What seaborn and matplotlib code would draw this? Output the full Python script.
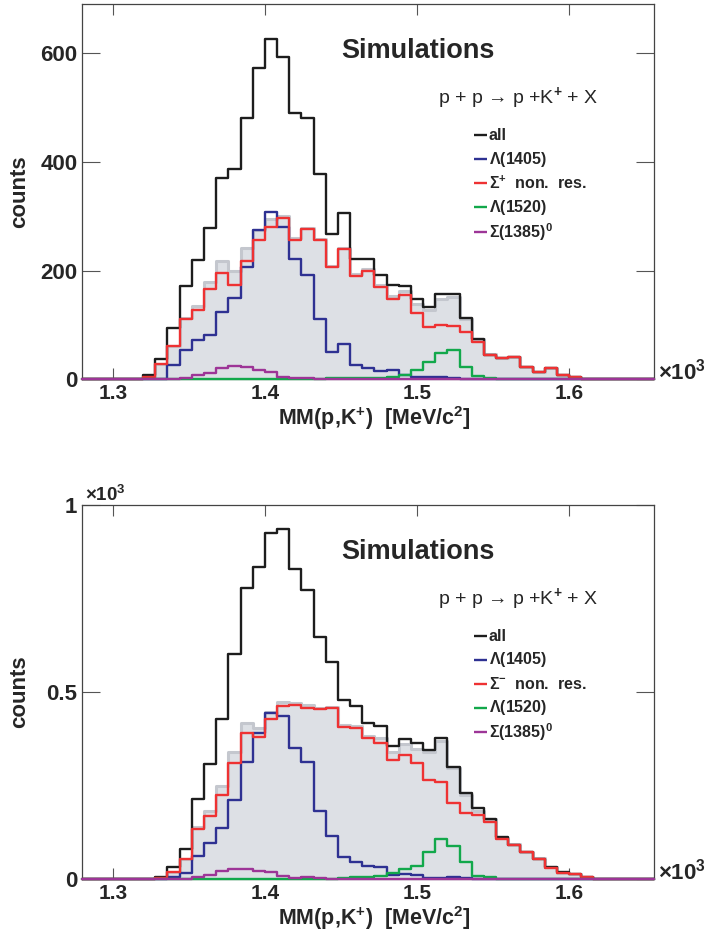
import numpy as np
import pandas as pd
import matplotlib
matplotlib.use("Agg")
import matplotlib.pyplot as plt
from matplotlib.ticker import FixedLocator, FuncFormatter
import seaborn as sns

# Binning of the missing-mass spectra MM(p,K+) (GeV/c^2)
BIN_LOW = 1.28
BIN_WIDTH = 0.008
N_BINS = 47

# Upper panel: Sigma+ non-resonant channel
top_all = [0, 0, 0, 0, 0,
           8, 37, 94, 172, 219, 278, 370, 386, 481, 573,
           625, 592, 489, 481, 378, 267, 306, 222, 221, 191,
           174, 172, 147, 133, 157, 156, 113, 74, 45, 40,
           41, 23, 13, 21, 7, 4, 0, 0, 0, 0, 0, 0]
top_l1405 = [0, 0, 0, 0, 0, 0, 0,
             27, 53, 72, 81, 123, 150, 207, 274, 308, 280,
             221, 191, 110, 50, 64, 26, 20, 15, 17, 7,
             5, 5, 4, 3, 1, 0, 0, 0, 0, 0,
             0, 0, 0, 0, 0, 0, 0, 0, 0, 0]
top_sigma_nr = [0, 0, 0, 0, 0,
                4, 29, 61, 110, 127, 166, 196, 174, 217, 256,
                280, 296, 256, 276, 256, 206, 239, 190, 199, 170,
                148, 155, 121, 96, 99, 98, 87, 69, 44, 39,
                41, 23, 13, 21, 7, 4, 0, 0, 0, 0, 0, 0]
top_l1520 = [0, 0, 0, 0, 0, 0, 0, 0,
             1, 1, 1, 1, 1, 1, 1, 1, 1, 1,
             1, 1, 2, 2, 2, 3, 3, 4, 7, 17,
             31, 48, 53, 23, 6, 2, 1, 0, 0, 0,
             0, 0, 0, 0, 0, 0, 0, 0, 0]
top_s1385 = [0, 0, 0, 0, 0, 0, 0, 0,
             2, 7, 12, 20, 25, 23, 17, 13, 4, 2,
             2, 1, 1, 1, 1, 1, 1, 1, 0, 0,
             0, 0, 0, 0, 0, 0, 0, 0, 0, 0,
             0, 0, 0, 0, 0, 0, 0, 0, 0]

# Lower panel: Sigma- non-resonant channel
bot_all = [0, 0, 0, 0, 0,
           2, 6, 32, 81, 215, 307, 428, 602, 777, 835,
           926, 935, 828, 773, 647, 581, 479, 463, 417, 410,
           356, 374, 363, 345, 377, 301, 231, 190, 161, 114,
           92, 72, 54, 33, 20, 15, 7, 0, 0, 0, 0, 0]
bot_l1405 = [0, 0, 0, 0, 0, 0, 0,
             7, 18, 62, 98, 138, 212, 313, 390, 444, 437,
             352, 314, 182, 116, 60, 45, 36, 34, 12, 14,
             12, 3, 4, 5, 3, 1, 0, 0, 0, 0,
             0, 0, 0, 0, 0, 0, 0, 0, 0, 0]
bot_sigma_nr = [0, 0, 0, 0, 0, 0,
                3, 20, 53, 134, 170, 225, 312, 390, 379, 428,
                464, 466, 457, 454, 457, 406, 403, 377, 365, 319,
                332, 310, 265, 261, 205, 176, 172, 154, 107, 92,
                72, 54, 31, 18, 14, 7, 0, 0, 0, 0, 0]
bot_l1520 = [0, 0, 0, 0, 0, 0, 0, 0, 0,
             1, 1, 1, 1, 1, 1, 1, 1, 1, 1,
             1, 1, 4, 5, 5, 10, 18, 28, 36, 72,
             107, 90, 47, 10, 5, 2, 1, 1, 1, 1,
             0, 0, 0, 0, 0, 0, 0, 0]
bot_s1385 = [0, 0, 0, 0, 0, 0, 0, 0,
             1, 5, 12, 23, 28, 27, 23, 19, 10, 3,
             7, 3, 2, 2, 2, 2, 2, 2, 2, 2,
             2, 2, 2, 1, 1, 1, 1, 1, 1, 1,
             0, 0, 0, 0, 0, 0, 0, 0, 0]

x_ticks = [1.3, 1.4, 1.5, 1.6]
top_y_ticks = [0, 200, 400, 600]
bot_y_ticks = [0, 500, 1000]

sns.set_style("ticks")
plt.rcParams["font.family"] = ["Liberation Sans", "DejaVu Sans"]
plt.rcParams["font.weight"] = "bold"
plt.rcParams["mathtext.fontset"] = "custom"
plt.rcParams["mathtext.rm"] = "Liberation Sans"
plt.rcParams["mathtext.it"] = "Liberation Sans:italic"
plt.rcParams["mathtext.bf"] = "Liberation Sans:bold"
plt.rcParams["mathtext.sf"] = "Liberation Sans"

edges = BIN_LOW + BIN_WIDTH * np.arange(N_BINS + 1)
centers = edges[:-1] + BIN_WIDTH / 2
bin_list = edges.tolist()

COLORS = {
    "all": "#1d1d1d",
    "l1405": "#2e3192",
    "sigma_nr": "#ee3233",
    "l1520": "#12a84b",
    "s1385": "#9d3597",
}
FILL = "#dde0e5"
FILL_EDGE = "#c4c7ce"
LW = 1.7

fig = plt.figure(figsize=(7.05, 9.35), dpi=100)
ax_top = fig.add_axes([0.11674, 0.59433, 0.81135, 0.40139])
ax_bot = fig.add_axes([0.11674, 0.05957, 0.81135, 0.40032])


def draw_panel(ax, all_, l1405, sigma_nr, l1520, s1385, ymax, sigma_label):
    df = pd.DataFrame({
        "mm": centers,
        "all": all_,
        "l1405": l1405,
        "sigma_nr": sigma_nr,
        "l1520": l1520,
        "s1385": s1385,
    })
    # everything except the Lambda(1405) contribution, shown as a filled band
    df["rest"] = df["sigma_nr"] + df["l1520"] + df["s1385"]

    sns.histplot(data=df, x="mm", weights="rest", bins=bin_list, element="step",
                 fill=True, color=FILL, alpha=1, linewidth=0, ax=ax, zorder=1)
    sns.histplot(data=df, x="mm", weights="rest", bins=bin_list, element="step",
                 fill=False, color=FILL_EDGE, linewidth=2.2, ax=ax, zorder=2)
    for key in ["all", "l1405", "sigma_nr", "l1520", "s1385"]:
        sns.histplot(data=df, x="mm", weights=key, bins=bin_list, element="step",
                     fill=False, color=COLORS[key], linewidth=LW, ax=ax,
                     zorder=3, clip_on=False)

    ax.set_xlim(edges[0], edges[-1])
    ax.set_ylim(0, ymax)
    ax.xaxis.set_major_locator(FixedLocator(x_ticks))
    ax.xaxis.set_major_formatter(FuncFormatter(lambda v, p: f"{v:.1f}"))
    ax.tick_params(axis="x", which="major", direction="in", length=8, width=0.8,
                   color="#555555", top=True, bottom=True, labelsize=15, pad=3.6)
    ax.tick_params(axis="y", which="major", direction="in", length=13, width=0.8,
                   color="#555555", left=True, right=True, labelsize=16, pad=3.5)
    ax.minorticks_off()
    for sp in ax.spines.values():
        sp.set_visible(True)
        sp.set_linewidth(0.9)
        sp.set_color("#444444")

    ax.set_xlabel(r"MM(p,K$^{\mathbf{+}}$)  [MeV/c$^{\mathbf{2}}$]", fontsize=15.5,
                  fontweight="bold")
    ax.xaxis.set_label_coords(0.51, -0.066)
    ax.set_ylabel("counts", fontsize=16, fontweight="bold")
    ax.yaxis.set_label_coords(-0.091, 0.5)

    ax.text(0.4535, 0.875, "Simulations", transform=ax.transAxes,
            fontsize=19.5, fontweight="bold", ha="left", va="center")
    ax.text(0.6215, 0.75, r"p + p → p +K$^{+}$ + X", transform=ax.transAxes,
            fontsize=14, fontweight="normal", ha="left", va="center")

    entries = [
        ("all", "all"),
        ("l1405", r"$\Lambda$(1405)"),
        ("sigma_nr", sigma_label),
        ("l1520", r"$\Lambda$(1520)"),
        ("s1385", r"$\Sigma$(1385)$^{\mathbf{0}}$"),
    ]
    row_y = [0.650, 0.586, 0.522, 0.458, 0.393]
    for (key, label), yy in zip(entries, row_y):
        ax.plot([0.684, 0.708], [yy, yy], transform=ax.transAxes,
                color=COLORS[key], lw=LW, solid_capstyle="butt")
        ax.text(0.711, yy, label, transform=ax.transAxes, fontsize=11.5,
                fontweight="bold", ha="left", va="center")

    ax.text(1.006, 0.02, r"$\times$10$^{\mathbf{3}}$", transform=ax.transAxes,
            fontsize=16, fontweight="bold", ha="left", va="center")


draw_panel(ax_top, top_all, top_l1405, top_sigma_nr, top_l1520, top_s1385, 690,
           r"$\Sigma^{+}$  non.  res.")
ax_top.yaxis.set_major_locator(FixedLocator(top_y_ticks))
ax_top.yaxis.set_major_formatter(FuncFormatter(lambda v, p: f"{v:.0f}"))

draw_panel(ax_bot, bot_all, bot_l1405, bot_sigma_nr, bot_l1520, bot_s1385, 1000,
           r"$\Sigma^{-}$  non.  res.")
ax_bot.yaxis.set_major_locator(FixedLocator(bot_y_ticks))
ax_bot.yaxis.set_major_formatter(FuncFormatter(lambda v, p: f"{v / 1000:g}"))
ax_bot.text(0.004, 1.027, r"$\times$10$^{\mathbf{3}}$", transform=ax_bot.transAxes,
            fontsize=13.5, fontweight="bold", ha="left", va="center")

fig.savefig("out.png", dpi=100)
